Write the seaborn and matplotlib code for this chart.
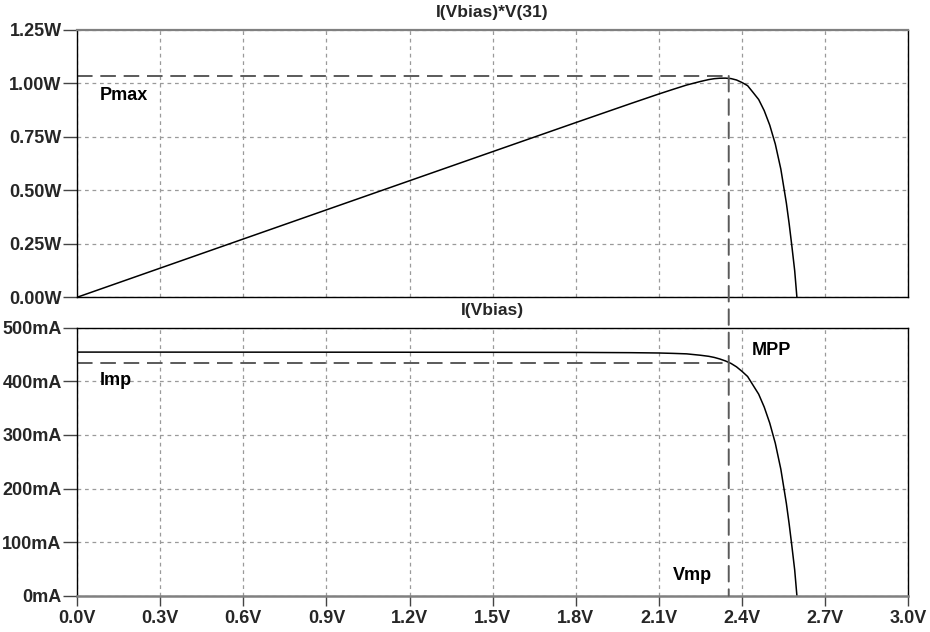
import numpy as np
import pandas as pd
import matplotlib
matplotlib.use("Agg")
import matplotlib.pyplot as plt
from matplotlib.patches import ConnectionPatch
from matplotlib.ticker import FuncFormatter
import seaborn as sns

# Swept bias voltage (V) and measured cell current I(Vbias) (mA)
voltage = [0.0, 0.5, 1.0, 1.5, 1.8, 2.0, 2.1, 2.15, 2.20, 2.25, 2.28, 2.30,
           2.32, 2.34, 2.36, 2.38, 2.40, 2.42, 2.44, 2.46, 2.48, 2.50,
           2.52, 2.54, 2.56, 2.57, 2.58, 2.59, 2.598]
current_ma = [454.5, 454.4, 454.3, 454.1, 453.9, 453.4, 452.8, 452.1, 451.2,
              448.6, 446.6, 444.5, 441.6, 438.0, 433.4, 427.0, 418.5, 409.0,
              392.5, 376.0, 352.0, 322.0, 284.5, 236.0, 172.0, 134.0, 92.0,
              48.0, 0.0]

# Maximum power point markers
v_mp = 2.352
i_mp = 434.0     # mA
p_max = 1.035    # W

x_ticks = [0.0, 0.3, 0.6, 0.9, 1.2, 1.5, 1.8, 2.1, 2.4, 2.7, 3.0]
p_ticks = [0.00, 0.25, 0.50, 0.75, 1.00, 1.25]
i_ticks = [0, 100, 200, 300, 400, 500]

df = pd.DataFrame({"V": voltage, "I": current_ma})
df["P"] = df["V"] * df["I"] / 1000.0

sns.set_theme(style="white")
plt.rcParams["font.family"] = ["Liberation Sans", "DejaVu Sans"]
plt.rcParams["font.weight"] = "bold"

fig = plt.figure(figsize=(9.3, 6.32), dpi=100)
ax_p = fig.add_axes([77 / 930, 1 - 297.3 / 632, 831.3 / 930, 267.3 / 632])
ax_i = fig.add_axes([77 / 930, 1 - 595.7 / 632, 831.3 / 930, 268.0 / 632])

grid_kw = dict(color="#9a9a9a", linewidth=0.9, linestyle=(0, (3, 3)))
mark_kw = dict(color="#5a5a5a", linewidth=1.4, linestyle=(0, (8, 4)))

sns.lineplot(data=df, x="V", y="P", ax=ax_p, color="black", linewidth=1.1,
             sort=False, estimator=None)
sns.lineplot(data=df, x="V", y="I", ax=ax_i, color="black", linewidth=1.1,
             sort=False, estimator=None)

for ax in (ax_p, ax_i):
    ax.set_xlim(0, 3.0)
    ax.set_xticks(x_ticks)
    ax.grid(True, **grid_kw)
    ax.set_axisbelow(True)
    ax.set_xlabel("")
    ax.set_ylabel("")
    for s in ax.spines.values():
        s.set_color("black")
        s.set_linewidth(1.0)
    ax.tick_params(axis="y", which="both", left=True, length=10, width=1.0,
                   color="#444444", pad=1, labelsize=13, direction="out")

ax_p.set_ylim(0, 1.25)
ax_p.set_yticks(p_ticks)
ax_p.yaxis.set_major_formatter(FuncFormatter(lambda v, _: f"{v:.2f}W"))
ax_p.tick_params(axis="x", bottom=False, labelbottom=False)
ax_p.spines["top"].set_color("#808080")
ax_p.spines["top"].set_linewidth(1.6)

ax_i.set_ylim(0, 500)
ax_i.set_yticks(i_ticks)
ax_i.yaxis.set_major_formatter(FuncFormatter(lambda v, _: f"{v:.0f}mA"))
ax_i.xaxis.set_major_formatter(FuncFormatter(lambda v, _: f"{v:.1f}V"))
ax_i.tick_params(axis="x", bottom=True, length=7, width=1.0, color="#444444",
                 pad=3, labelsize=13, direction="out")
ax_i.spines["bottom"].set_color("#808080")
ax_i.spines["bottom"].set_linewidth(1.8)

for lbl in ax_p.get_yticklabels() + ax_i.get_yticklabels() + ax_i.get_xticklabels():
    lbl.set_fontweight("bold")

# Pmax / Imp guide lines and the Vmp line running through both panels
ax_p.plot([0, v_mp], [p_max, p_max], **mark_kw)
ax_i.plot([0, v_mp], [i_mp, i_mp], **mark_kw)
con = ConnectionPatch(xyA=(v_mp, p_max), coordsA=ax_p.transData,
                      xyB=(v_mp, 0), coordsB=ax_i.transData, **mark_kw)
fig.add_artist(con)

txt_kw = dict(fontsize=13, fontweight="bold", color="black")
ax_p.text(0.083, 0.946, "Pmax", ha="left", va="center", **txt_kw)
ax_i.text(0.083, 402, "Imp", ha="left", va="center", **txt_kw)
ax_i.text(2.436, 458, "MPP", ha="left", va="center", **txt_kw)
ax_i.text(2.15, 38, "Vmp", ha="left", va="center", **txt_kw)

fig.text((77 + 908.3) / 2 / 930, 1 - 12 / 632, "I(Vbias)*V(31)", ha="center",
         va="center", fontsize=12.5, fontweight="bold")
fig.text((77 + 908.3) / 2 / 930, 1 - 311 / 632, "I(Vbias)", ha="center",
         va="center", fontsize=12.5, fontweight="bold")

fig.savefig("out.png", dpi=100, facecolor="white")
